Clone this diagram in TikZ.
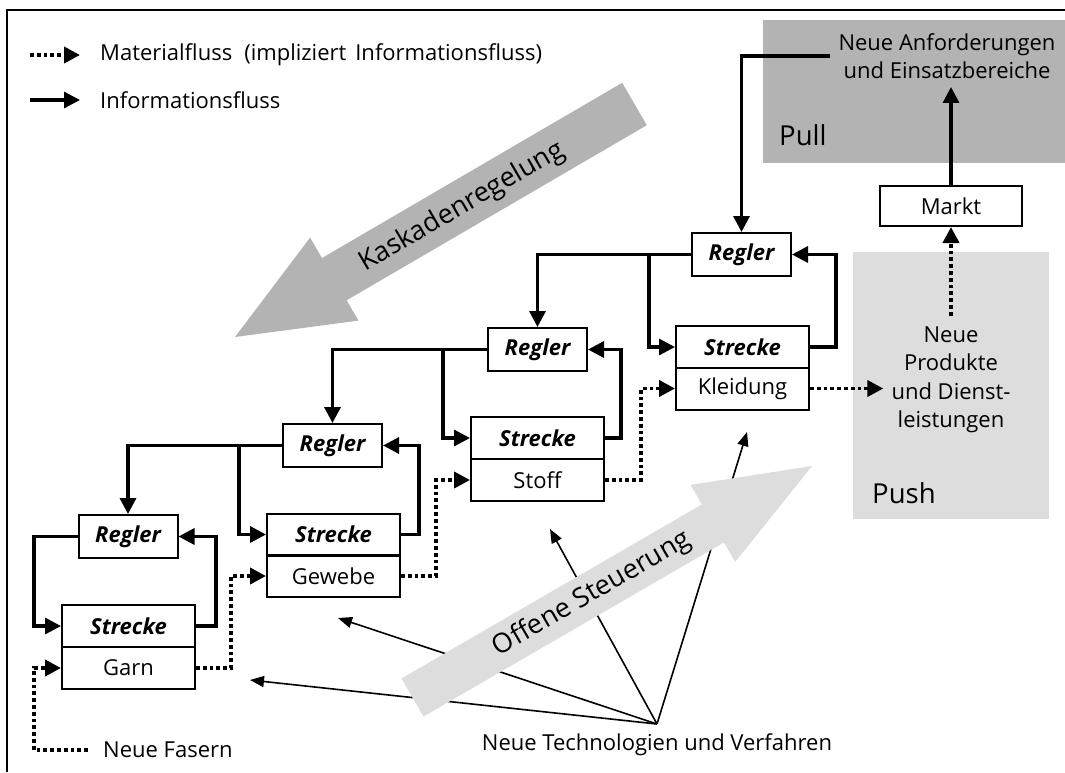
\documentclass[tikz,border=0pt]{standalone}
\usepackage{fontspec}
\setmainfont{Open Sans}
\usetikzlibrary{arrows.meta,calc}
\definecolor{pullgrey}{HTML}{B3B3B3}
\definecolor{pushgrey}{HTML}{DDDDDD}
\newcommand\fsNormal{\fontsize{22}{28.5}\selectfont}
\newcommand\fsBig{\fontsize{27.5}{30}\selectfont}
\newcommand\fsHuge{\fontsize{27}{32}\selectfont}
\tikzset{
  stbox/.style={draw, line width=2pt, minimum width=133pt, minimum height=42pt,
    inner sep=0pt, font=\fsNormal},
  regbox/.style={stbox, minimum width=99pt, minimum height=43pt,
    font=\fsNormal\bfseries\itshape},
  label/.style={font=\fsNormal, inner sep=0pt},
  info/.style={line width=3.2pt, -{Triangle[length=16pt,width=16pt]}},
  matl/.style={line width=3.8pt, dash pattern=on 3.8pt off 3pt,
    -{Triangle[length=16pt,width=16pt]}},
  techarrow/.style={line width=1.6pt, -{Triangle[length=14pt,width=11pt]}},
}
\begin{document}
\begin{tikzpicture}[x=1pt,y=-1pt]
\useasboundingbox (0,0) rectangle (1065,772);

% frame
\draw[line width=2.5pt] (7,772) -- (7,10) -- (1065,10);

% pull and push areas
\fill[pullgrey] (763,20) rectangle (1065,163);
\fill[pushgrey] (853,252) rectangle (1049,519);
\node[anchor=west, font=\fsBig, inner sep=0pt] (pull) at (779,135) {Pull};
\node[anchor=west, font=\fsBig, inner sep=0pt] (push) at (872,493) {Push};

% cascade control arrow
\fill[pullgrey] (622.2,82.8) -- (646.8,125.2) -- (346.6,300.3) -- (358.5,320.6)
  -- (235,337) -- (310.1,237.6) -- (322,258) -- cycle;
\node[font=\fsHuge, rotate=30.25, inner sep=0pt] (kask) at (462,207) {Kaskadenregelung};

% new technologies
\node[label, anchor=north, inner ysep=9pt] (ntv) at (657,724) {Neue Technologien und Verfahren};
\coordinate (tg1) at (250,680);
\coordinate (tg2) at (338,618);
\coordinate (tg3) at (550,529);
\coordinate (tg4) at (747,432);
\foreach \t in {tg1,tg2,tg3,tg4} \draw[techarrow] (ntv.north) -- (\t);

% open-loop control arrow
\fill[pushgrey] (401.5,678.5) -- (423.5,716.5) -- (723.9,542.4) -- (735.2,561.9)
  -- (812,466) -- (690.6,484.9) -- (701.9,504.4) -- cycle;
\node[font=\fsHuge, rotate=30.1, inner sep=0pt] (offen) at (592,594) {Offene Steuerung};

% legend
\coordinate (lm) at (30,55);
\coordinate (li) at (30,100);
\node[label, anchor=west, inner xsep=20pt] (lgm) at (80,55) {Materialfluss\hspace{12pt}(impliziert\hspace{9pt}Informationsfluss)};
\node[label, anchor=west, inner xsep=20pt] (lgi) at (80,100) {Informationsfluss};
\draw[matl] (lm) -- (lgm.west);
\draw[info] (li) -- (lgi.west);

% controllers
\node[regbox] (rg1) at (128,536.5) {Regler};
\node[regbox] (rg2) at (332.5,445.5) {Regler};
\node[regbox] (rg3) at (537.5,349.5) {Regler};
\node[regbox] (rg4) at (741.5,254.5) {Regler};

% plants and materials
\node[stbox, font=\fsNormal\bfseries\itshape] (st1) at (128.5,626) {Strecke};
\node[stbox] (m1) at (128.5,668) {Garn};
\node[stbox, font=\fsNormal\bfseries\itshape] (st2) at (333.5,534.5) {Strecke};
\node[stbox] (m2) at (333.5,576) {Gewebe};
\node[stbox, font=\fsNormal\bfseries\itshape] (st3) at (537.5,438) {Strecke};
\node[stbox] (m3) at (537.5,480) {Stoff};
\node[stbox, font=\fsNormal\bfseries\itshape] (st4) at (742.5,347) {Strecke};
\node[stbox] (m4) at (742.5,388.5) {Kleidung};

% market side
\node[stbox, minimum width=142pt, minimum height=40pt] (markt) at (951,206) {Markt};
\node[label, align=center, inner xsep=8pt, inner ysep=8pt] (anf) at (947,56) {Neue Anforderungen\\und Einsatzbereiche};
\node[label, align=center, inner xsep=8pt, inner ysep=11pt] (np) at (951,380) {Neue\\Produkte\\und Dienst-\\leistungen};
\node[label, anchor=west, inner xsep=15pt] (nf) at (88,750) {Neue Fasern};

% branch points of the controller outputs
\coordinate (j1) at ([xshift=-27pt]st1.west);
\coordinate (j2) at ([xshift=-27pt]st2.west);
\coordinate (j3) at ([xshift=-27pt]st3.west);
\coordinate (j4) at ([xshift=-26pt]st4.west);

% information flow
\draw[info] (anf.west) -| (rg4.north);
\draw[info] (markt.north) -- (markt.north |- anf.south);

\draw[info] (rg4.west) -| (rg3.north);
\draw[info] (j4 |- rg4.west) |- (st4.west);
\draw[info] (st4.east) -- ++(26,0) |- (rg4.east);

\draw[info] (rg3.west) -| (rg2.north);
\draw[info] (j3 |- rg3.west) |- (st3.west);
\draw[info] (st3.east) -- ++(16,0) |- (rg3.east);

\draw[info] (rg2.west) -| (rg1.north);
\draw[info] (j2 |- rg2.west) |- (st2.west);
\draw[info] (st2.east) -- ++(18,0) |- (rg2.east);

\draw[info] (rg1.west) -| (j1) -- (st1.west);
\draw[info] (st1.east) -- ++(20,0) |- (rg1.east);

% material flow
\draw[matl] (nf.west) -| (j1 |- m1.west) -- (m1.west);
\draw[matl] (m1.east) -- ++(35,0) |- (m2.west);
\draw[matl] (m2.east) -- ++(35,0) |- (m3.west);
\draw[matl] (m3.east) -- ++(36,0) |- (m4.west);
\draw[matl] (m4.east) -- (m4.east -| np.west);
\draw[matl] (np.north) -- (markt.south);
\end{tikzpicture}
\end{document}
